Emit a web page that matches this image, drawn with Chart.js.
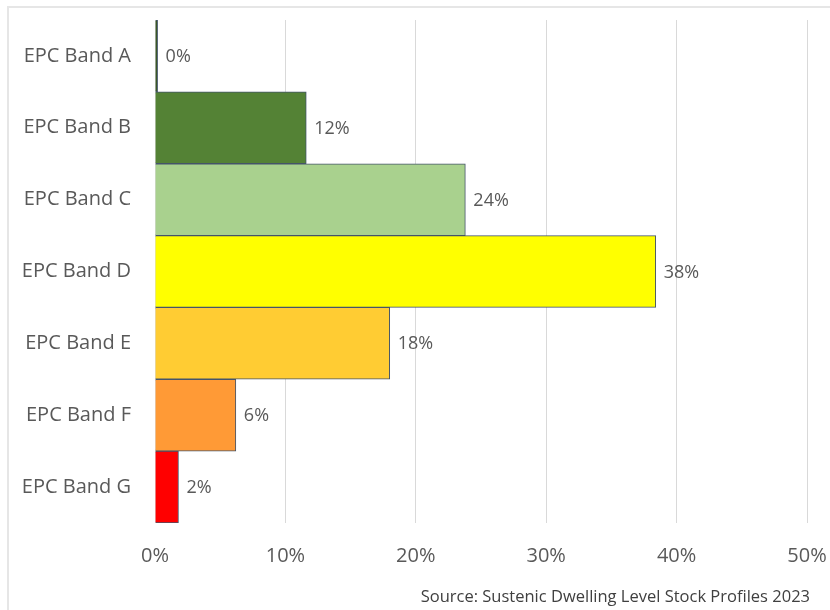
<!DOCTYPE html>
<html>
<head>
<meta charset="utf-8">
<script src="https://cdn.jsdelivr.net/npm/chart.js@4"></script>
<style>
  html, body { margin: 0; padding: 0; background: #fff; }
  #wrap { width: 830px; height: 610px; position: relative; }
</style>
</head>
<body>
<div id="wrap"><canvas id="epcChart" width="830" height="610"></canvas></div>
<script>
let bandLabels = ['EPC Band A', 'EPC Band B', 'EPC Band C', 'EPC Band D', 'EPC Band E', 'EPC Band F', 'EPC Band G']
let bandShares = [0.2, 11.6, 23.8, 38.4, 18.0, 6.2, 1.8]
let bandColours = ['#375623', '#548235', '#A9D18E', '#FFFF00', '#FFCC33', '#FF9A36', '#FF0000']
let xTicks = [0, 10, 20, 30, 40, 50]
let sourceNote = 'Source: Sustenic Dwelling Level Stock Profiles 2023'

let textGrey = '#595959'
let fontFamily = '"Open Sans", "Noto Sans", sans-serif'

// frame round the chart, value labels and the source note
let extras = {
  id: 'extras',
  beforeDraw(chart) {
    let ctx = chart.ctx
    ctx.save()
    ctx.strokeStyle = '#E6E6E6'
    ctx.lineWidth = 2
    ctx.beginPath()
    ctx.moveTo(8, 610)
    ctx.lineTo(8, 7)
    ctx.lineTo(830, 7)
    ctx.stroke()
    ctx.restore()
  },
  afterDatasetsDraw(chart) {
    let ctx = chart.ctx
    let meta = chart.getDatasetMeta(0)
    ctx.save()
    ctx.fillStyle = textGrey
    ctx.font = '18px ' + fontFamily
    ctx.textAlign = 'left'
    ctx.textBaseline = 'middle'
    meta.data.forEach((bar, i) => {
      ctx.fillText(Math.round(bandShares[i]) + '%', bar.x + 8, bar.y + 1)
    })
    ctx.font = '16.5px ' + fontFamily
    ctx.fillStyle = '#404040'
    ctx.textAlign = 'right'
    ctx.fillText(sourceNote, 810, 597)
    ctx.restore()
  }
}

let epcChart = new Chart(document.querySelector('#epcChart'), {
  type: 'bar',
  plugins: [extras],
  data: {
    labels: bandLabels,
    datasets: [{
      data: bandShares,
      backgroundColor: bandColours,
      borderColor: '#44546A',
      borderWidth: 1,
      categoryPercentage: 1,
      barPercentage: 1
    }]
  },
  options: {
    indexAxis: 'y',
    responsive: false,
    animation: false,
    layout: {
      padding: { top: 20, right: 23, left: 8, bottom: 0 }
    },
    scales: {
      x: {
        min: 0,
        max: 50,
        afterBuildTicks(scale) {
          scale.ticks = xTicks.map(v => ({ value: v }))
        },
        afterFit(scale) {
          scale.height = 87
          scale.paddingLeft = 0
          scale.paddingRight = 0
        },
        border: { display: false },
        grid: { color: '#D9D9D9', lineWidth: 1, drawTicks: false },
        ticks: {
          padding: 21,
          color: textGrey,
          font: { size: 20, family: fontFamily },
          callback: v => v + '%'
        }
      },
      y: {
        afterFit(scale) {
          scale.width = 147
          scale.paddingTop = 0
          scale.paddingBottom = 0
        },
        border: { display: false },
        grid: { display: false, drawTicks: false },
        ticks: {
          padding: 24,
          color: textGrey,
          font: { size: 20, family: fontFamily }
        }
      }
    },
    plugins: {
      legend: { display: false },
      tooltip: { enabled: false }
    }
  }
})
</script>
</body>
</html>
